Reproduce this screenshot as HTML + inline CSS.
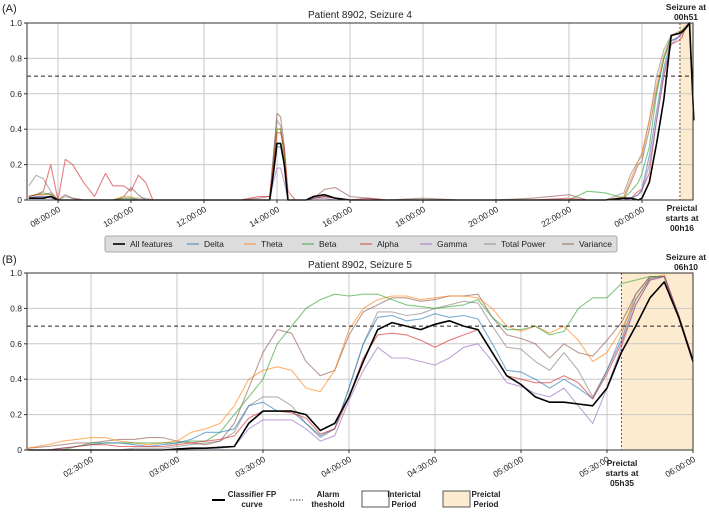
<!DOCTYPE html>
<html><head><meta charset="utf-8">
<style>
body{margin:0;background:#fff;}
svg{display:block;font-family:"Liberation Sans","DejaVu Sans",sans-serif;}
</style></head>
<body>
<svg id="chart" width="709" height="512" viewBox="0 0 709 512"></svg>
<script>
// ---------- Panel A data ----------
const topTimes = [7.2,7.4,7.6,7.8,8.0,8.2,8.4,8.7,9.0,9.3,9.5,9.8,10.0,10.2,10.4,10.6,11,12,13,13.5,13.8,13.9,14.0,14.1,14.2,14.3,14.5,14.8,15,15.3,15.6,16,16.5,17,18,19,20,21,22,22.5,23,23.5,23.7,23.9,24.0,24.2,24.4,24.6,24.8,25.0,25.1,25.2,25.3,25.42];
const topAll   = [0.01,0.01,0.01,0.02,0,0,0,0,0,0,0,0,0,0,0,0,0,0,0,0,0,0.15,0.32,0.32,0.2,0,0,0,0.02,0.03,0.01,0,0,0,0,0,0,0,0,0,0,0.01,0.01,0,0.01,0.1,0.32,0.57,0.93,0.94,0.95,0.97,1.0,0.45];
const topDelta = [0.01,0.02,0.02,0.02,0,0,0,0,0,0,0,0,0,0,0,0,0,0,0,0,0,0.15,0.3,0.3,0.2,0,0,0,0.01,0.02,0.01,0,0,0,0,0,0,0,0,0,0,0,0.01,0.03,0.06,0.25,0.5,0.75,0.9,0.92,0.95,0.98,1.0,0.45];
const topTheta = [0.02,0.03,0.03,0.03,0,0,0,0,0,0,0,0.02,0.02,0,0,0,0,0,0,0,0,0.2,0.4,0.4,0.25,0,0,0,0.01,0.02,0.01,0,0,0,0,0,0,0,0,0,0,0.02,0.12,0.22,0.27,0.45,0.65,0.82,0.92,0.95,0.96,0.98,1.0,0.45];
const topBeta  = [0.02,0.03,0.04,0.03,0,0,0,0,0,0,0,0.01,0.01,0,0,0,0,0,0,0,0,0.2,0.4,0.4,0.25,0,0,0,0.02,0.03,0.01,0,0,0,0,0,0,0,0,0.05,0.04,0.01,0.05,0.1,0.15,0.3,0.6,0.8,0.93,0.94,0.96,0.98,1.0,0.45];
const topAlpha = [0.02,0.03,0.05,0.2,0,0.23,0.2,0.1,0.02,0.15,0.08,0.08,0.05,0.14,0.1,0,0,0,0,0.02,0.02,0.2,0.38,0.38,0.3,0.05,0,0,0.01,0.02,0.01,0,0.01,0,0,0,0,0,0.01,0,0,0,0.01,0.05,0.06,0.15,0.45,0.7,0.88,0.9,0.92,0.98,1.0,0.45];
const topGamma = [0.01,0.02,0.02,0.01,0,0,0,0,0,0,0,0,0,0,0,0,0,0,0,0,0,0.1,0.18,0.18,0.1,0,0,0,0.01,0.01,0,0,0,0,0,0,0,0,0,0,0,0,0.01,0.03,0.05,0.2,0.45,0.72,0.88,0.92,0.95,0.98,1.0,0.45];
const topPower = [0.08,0.14,0.12,0.05,0,0.02,0.01,0,0,0,0,0.01,0.01,0.01,0.01,0,0,0,0,0,0,0.25,0.45,0.42,0.25,0,0,0,0.01,0.02,0.01,0,0,0,0,0,0,0,0,0,0,0.04,0.15,0.22,0.25,0.45,0.7,0.85,0.93,0.95,0.96,0.98,1.0,0.45];
const topVar   = [0.02,0.03,0.03,0.04,0,0.03,0.01,0,0,0,0,0.02,0.07,0.03,0,0,0,0,0,0.01,0.02,0.25,0.49,0.47,0.3,0,0,0,0.01,0.06,0.07,0.02,0.01,0,0.01,0,0,0.01,0.03,0,0,0.01,0.1,0.2,0.22,0.4,0.62,0.8,0.9,0.92,0.94,0.97,1.0,0.45];
const topTickVals = [8,10,12,14,16,18,20,22,24];
const topTickLabels = ["08:00:00","10:00:00","12:00:00","14:00:00","16:00:00","18:00:00","20:00:00","22:00:00","00:00:00"];
const topPreictal = [25.04, 25.42];

// ---------- Panel B data ----------
const botTimes = [8,15,20,25,30,35,40,45,50,55,60,65,70,75,80,85,90,95,100,105,110,115,120,125,130,135,140,145,150,155,160,165,170,175,180,185,190,195,200,205,210,215,220,225,230,235,240];
const botAll   = [0,0,0,0,0,0,0,0,0,0,0.005,0.01,0.01,0.015,0.02,0.15,0.22,0.22,0.22,0.2,0.11,0.15,0.3,0.5,0.68,0.72,0.70,0.68,0.71,0.73,0.70,0.68,0.55,0.42,0.37,0.30,0.27,0.27,0.26,0.25,0.35,0.55,0.70,0.86,0.95,0.75,0.50];
const botBeta  = [0,0,0,0.02,0.04,0.04,0.04,0.04,0.04,0.04,0.04,0.05,0.05,0.1,0.2,0.3,0.4,0.6,0.7,0.8,0.85,0.88,0.87,0.88,0.88,0.85,0.82,0.81,0.80,0.81,0.82,0.85,0.75,0.68,0.68,0.70,0.65,0.67,0.80,0.86,0.86,0.94,0.96,0.98,0.98,0.75,0.50];
const botTheta = [0.01,0.03,0.05,0.06,0.07,0.07,0.05,0.04,0.03,0.04,0.05,0.1,0.12,0.15,0.25,0.4,0.45,0.47,0.45,0.35,0.33,0.45,0.68,0.80,0.85,0.87,0.87,0.85,0.86,0.87,0.87,0.86,0.80,0.70,0.67,0.70,0.66,0.70,0.62,0.50,0.55,0.68,0.85,0.97,0.99,0.76,0.51];
const botVar   = [0.01,0.02,0.03,0.04,0.04,0.05,0.06,0.06,0.07,0.07,0.05,0.04,0.03,0.05,0.15,0.35,0.55,0.68,0.66,0.50,0.42,0.45,0.65,0.78,0.82,0.86,0.86,0.84,0.85,0.87,0.87,0.88,0.75,0.65,0.63,0.60,0.52,0.60,0.55,0.53,0.62,0.72,0.88,0.98,0.98,0.76,0.51];
const botPower = [0,0,0,0,0,0,0,0.01,0.01,0.01,0.02,0.03,0.04,0.05,0.1,0.25,0.3,0.30,0.25,0.15,0.07,0.12,0.35,0.60,0.78,0.78,0.76,0.77,0.80,0.82,0.84,0.83,0.70,0.58,0.57,0.50,0.45,0.55,0.45,0.30,0.45,0.65,0.88,0.98,0.98,0.76,0.51];
const botDelta = [0,0,0.01,0.02,0.03,0.04,0.04,0.03,0.02,0.03,0.04,0.06,0.1,0.1,0.12,0.25,0.27,0.22,0.22,0.15,0.08,0.12,0.35,0.60,0.75,0.76,0.73,0.74,0.77,0.75,0.76,0.74,0.60,0.45,0.44,0.40,0.35,0.40,0.35,0.29,0.45,0.62,0.85,0.97,0.98,0.76,0.51];
const botAlpha = [0,0,0.01,0.02,0.03,0.03,0.02,0.02,0.02,0.02,0.03,0.04,0.05,0.06,0.08,0.18,0.22,0.22,0.21,0.18,0.09,0.12,0.30,0.52,0.65,0.66,0.65,0.62,0.58,0.62,0.65,0.68,0.55,0.42,0.40,0.38,0.38,0.42,0.38,0.29,0.43,0.60,0.82,0.96,0.98,0.76,0.51];
const botGamma = [0,0,0,0,0,0,0,0,0,0,0,0.005,0.01,0.01,0.02,0.12,0.17,0.17,0.17,0.12,0.05,0.08,0.28,0.45,0.58,0.52,0.52,0.50,0.48,0.52,0.58,0.60,0.50,0.38,0.36,0.32,0.30,0.35,0.25,0.15,0.35,0.58,0.82,0.96,0.98,0.76,0.51];
const botTickVals = [30,60,90,120,150,180,210,240];
const botTickLabels = ["02:30:00","03:00:00","03:30:00","04:00:00","04:30:00","05:00:00","05:30:00","06:00:00"];
const botPreictal = [215, 240];

const yTicks = [0,0.2,0.4,0.6,0.8,1.0];
const yTickLabels = ["0","0.2","0.4","0.6","0.8","1.0"];
const threshold = 0.7;

const NS = "http://www.w3.org/2000/svg";
const svg = document.getElementById('chart');
function mk(tag, attrs, parent){ const e=document.createElementNS(NS,tag); for(const k in attrs) e.setAttribute(k,attrs[k]); (parent||svg).appendChild(e); return e; }
function txt(x,y,s,attrs,parent){ const t=mk('text',Object.assign({x:x,y:y,'font-size':9,fill:'#222'},attrs||{}),parent); t.textContent=s; return t; }

const colors = {all:'#000',delta:'#1f77b4',theta:'#ff7f0e',beta:'#2ca02c',alpha:'#d62728',gamma:'#9467bd',power:'#7f7f7f',var:'#8c564b'};

function panel(cfg){
  const g = mk('g',{});
  
  
  const L=27,R=693,T=cfg.top,B=cfg.bottom;
  const xs = v => cfg.x0 + (v - cfg.v0) * cfg.k;
  const ys = v => B - v * (B - T);
  const sh = mk('rect',{x:xs(cfg.pre[0]),y:T,width:xs(cfg.pre[1])-xs(cfg.pre[0]),height:B-T,fill:'#fdebcf'},g);
  
  
  cfg.ticks.forEach((v,i)=>{
    const x=xs(v);
    if(x<R-1) mk('line',{x1:x,y1:T,x2:x,y2:B,stroke:'#c8c8c8','stroke-width':1},g);
    mk('line',{x1:x,y1:B,x2:x,y2:B+3,stroke:'#333'},g);
    const t=txt(x+3,B+11,cfg.labels[i],{'text-anchor':'end',transform:`rotate(-30 ${x+3} ${B+11})`,'font-size':8.5},g);
    
    
  });
  yTicks.forEach((v,i)=>{
    const y=ys(v);
    if(v>0&&v<1) mk('line',{x1:L,y1:y,x2:R,y2:y,stroke:'#c8c8c8','stroke-width':1},g);
    mk('line',{x1:L-3,y1:y,x2:L,y2:y,stroke:'#333'},g);
    const t=txt(L-5,y+3,yTickLabels[i],{'text-anchor':'end','font-size':8.5},g);
    
    
  });
  mk('line',{x1:xs(cfg.pre[0]),y1:T,x2:xs(cfg.pre[0]),y2:B,stroke:'#333','stroke-width':0.8,'stroke-dasharray':'2,2'},g);
  const order=[['power',cfg.s.power],['var',cfg.s.var],['theta',cfg.s.theta],['beta',cfg.s.beta],['delta',cfg.s.delta],['alpha',cfg.s.alpha],['gamma',cfg.s.gamma]];
  order.forEach(([k,arr])=>{
    const p=mk('polyline',{points:arr.map((v,i)=>xs(cfg.times[i]).toFixed(1)+','+ys(v).toFixed(1)).join(' '),fill:'none',stroke:colors[k],'stroke-width':1.1,'stroke-opacity':0.6,'stroke-linejoin':'round'},g);
    
    
  });
  const pa=mk('polyline',{points:cfg.s.all.map((v,i)=>xs(cfg.times[i]).toFixed(1)+','+ys(v).toFixed(1)).join(' '),fill:'none',stroke:'#000','stroke-width':1.6,'stroke-linejoin':'round'},g);
  
  
  const th=mk('line',{x1:L,y1:ys(threshold),x2:R,y2:ys(threshold),stroke:'#222','stroke-width':1,'stroke-dasharray':'4,3'},g);
  
  
  mk('rect',{x:L,y:T,width:R-L,height:B-T,fill:'none',stroke:'#333','stroke-width':1},g);
  const ti=txt(360,T-5,cfg.title,{'text-anchor':'middle','font-size':10},g);
  
  
  return {xs,ys};
}

panel({name:'panel-a',top:23,bottom:200,x0:58,v0:8,k:36.5,ticks:topTickVals,labels:topTickLabels,pre:topPreictal,times:topTimes,title:'Patient 8902, Seizure 4',
  s:{all:topAll,delta:topDelta,theta:topTheta,beta:topBeta,alpha:topAlpha,gamma:topGamma,power:topPower,var:topVar}});
panel({name:'panel-b',top:273,bottom:450,x0:91,v0:30,k:86/30,ticks:botTickVals,labels:botTickLabels,pre:botPreictal,times:botTimes,title:'Patient 8902, Seizure 5',
  s:{all:botAll,delta:botDelta,theta:botTheta,beta:botBeta,alpha:botAlpha,gamma:botGamma,power:botPower,var:botVar}});

txt(2,12,'(A)',{'font-size':11});
txt(2,263,'(B)',{'font-size':11});
const bold={'font-size':8.5,'font-weight':'bold','text-anchor':'middle'};
txt(686,10,'Seizure at',bold); txt(686,20,'00h51',bold);
txt(682,211,'Preictal',bold); txt(682,221,'starts at',bold); txt(682,231,'00h16',bold);
txt(686,260,'Seizure at',bold); txt(686,270,'06h10',bold);
txt(622,466,'Preictal',bold); txt(622,476,'starts at',bold); txt(622,486,'05h35',bold);

const lg=mk('g',{});  
mk('rect',{x:105,y:236,width:512,height:16,rx:2,fill:'#dcdcdc',stroke:'#aaa'},lg);
const legItems=[['All features','all',113],['Delta','delta',187],['Theta','theta',244],['Beta','beta',302],['Alpha','alpha',360],['Gamma','gamma',420],['Total Power','power',484],['Variance','var',562]];
legItems.forEach(([n,k,x])=>{
  const e=mk('g',{},lg);  
  mk('line',{x1:x,y1:244,x2:x+12,y2:244,stroke:colors[k],'stroke-width':k==='all'?1.6:1.2,'stroke-opacity':k==='all'?1:0.7},e);
  txt(x+17,247,n,{'font-size':8.5},e);
});
const lg2=mk('g',{});  
mk('line',{x1:212,y1:500,x2:225,y2:500,stroke:'#000','stroke-width':2},lg2);
txt(252,497,'Classifier FP',{'font-size':8,'font-weight':'bold','text-anchor':'middle'},lg2);
txt(252,507,'curve',{'font-size':8,'font-weight':'bold','text-anchor':'middle'},lg2);
mk('line',{x1:290,y1:500,x2:303,y2:500,stroke:'#333','stroke-width':1,'stroke-dasharray':'1.5,1.5'},lg2);
txt(328,497,'Alarm',{'font-size':8,'font-weight':'bold','text-anchor':'middle'},lg2);
txt(328,507,'theshold',{'font-size':8,'font-weight':'bold','text-anchor':'middle'},lg2);
mk('rect',{x:362,y:491,width:27,height:16,fill:'#fff',stroke:'#555'},lg2);
txt(404,497,'Interictal',{'font-size':8,'font-weight':'bold','text-anchor':'middle'},lg2);
txt(404,507,'Period',{'font-size':8,'font-weight':'bold','text-anchor':'middle'},lg2);
mk('rect',{x:443,y:491,width:27,height:16,fill:'#fdebcf',stroke:'#555'},lg2);
txt(486,497,'Preictal',{'font-size':8,'font-weight':'bold','text-anchor':'middle'},lg2);
txt(486,507,'Period',{'font-size':8,'font-weight':'bold','text-anchor':'middle'},lg2);
</script>
</body></html>
